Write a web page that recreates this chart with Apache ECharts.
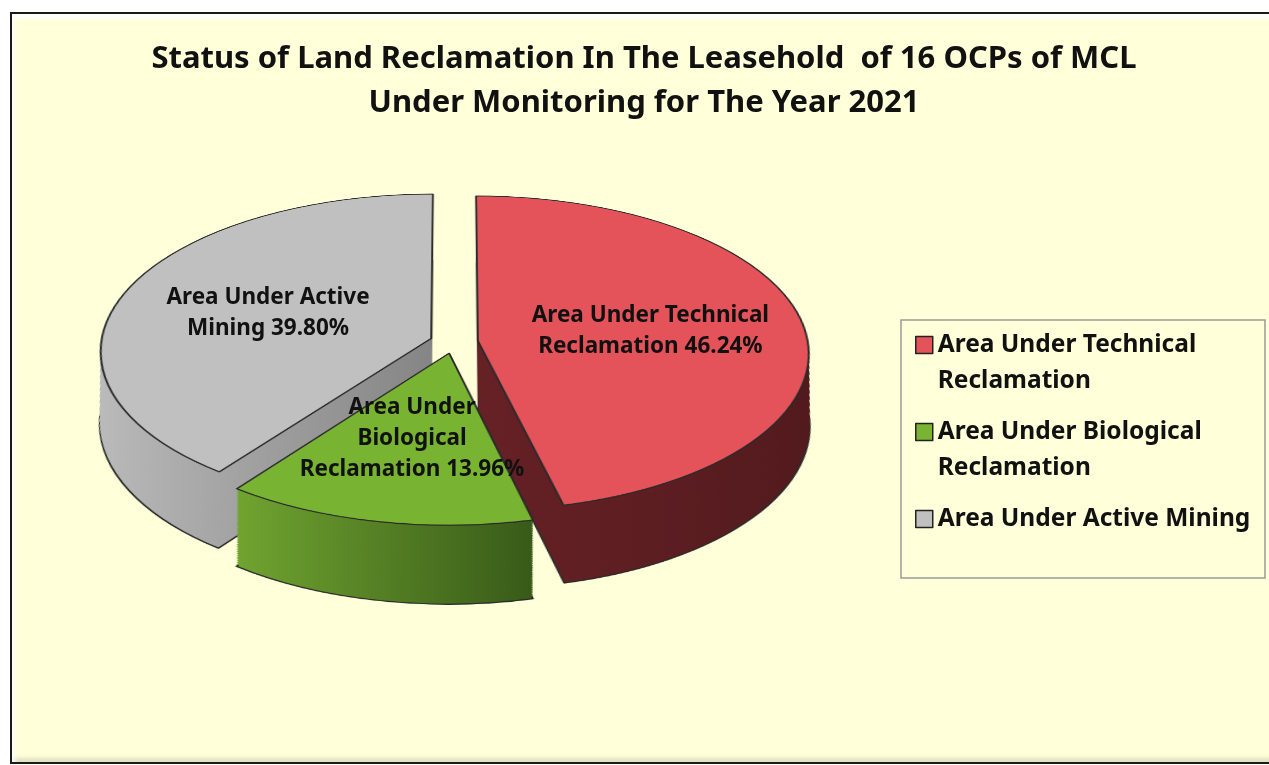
<!DOCTYPE html>
<html>
<head>
<meta charset="utf-8">
<title>Status of Land Reclamation 2021</title>
<script src="https://cdn.jsdelivr.net/npm/echarts@6/dist/echarts.min.js"></script>
<style>
    html, body { margin: 0; padding: 0; background: #fff; overflow: hidden; }
    #frame {
        position: absolute; left: 10px; top: 12px; width: 1280px; height: 748px; z-index: 0;
        background: #FFFFDA; border: 2px solid #1a1a1a; border-right: none;
        box-shadow: inset 3px 5px 4px rgba(255, 255, 255, 0.9), inset 0 -4px 4px rgba(0, 0, 0, 0.12);
    }
    #pieChart { position: absolute; left: 0; top: 0; width: 1269px; height: 900px; z-index: 1; }
    #mainChart { position: absolute; left: 0; top: 0; width: 1269px; height: 765px; z-index: 2; }
</style>
</head>
<body>
<div id="frame"></div>
<div id="pieChart"></div>
<div id="mainChart"></div>
<script type="text/javascript">
    // data
    var categories = ['Area Under Technical Reclamation', 'Area Under Biological Reclamation', 'Area Under Active Mining'];
    var shares = [46.24, 13.96, 39.80];
    var legendText = ['Area Under Technical\nReclamation', 'Area Under Biological\nReclamation', 'Area Under Active Mining'];
    var sliceLabels = ['Area Under Technical\nReclamation', 'Area Under\nBiological\nReclamation', 'Area Under Active\nMining'];

    // styles
    var topColors = ['#E4525A', '#78B432', '#C0C0C0'];
    var wallColors = [['#662125', '#521a1d'], ['#70A430', '#385A18'], ['#BBBBBB', '#858585']];
    var font = 'Noto Sans';

    // pie is drawn flat, then tilted with a css perspective transform
    var cx = 454, cy = 342;       // screen position of the pie centre
    var radius = 330;
    var explode = 24;
    var tiltDeg = 61.7, persp = 3650;
    var depthU = 146;             // thickness in the flat pie plane
    var layers = 44;
    var cyU = 380;                // centre inside the flat pie canvas
    var stepU = depthU / layers;
    var cosT = Math.cos(tiltDeg * Math.PI / 180), sinT = Math.sin(tiltDeg * Math.PI / 180);

    var pieEl = document.getElementById('pieChart');
    pieEl.style.top = (cy - cyU) + 'px';
    pieEl.style.transformOrigin = cx + 'px ' + cyU + 'px';
    pieEl.style.transform = 'perspective(' + persp + 'px) rotateX(' + tiltDeg + 'deg)';

    // same projection as the css transform, for the labels
    function project(dx, dy) {
        var k = persp / (persp - dy * sinT);
        return [cx + dx * k, cy + dy * cosT * k];
    }

    function gradient(stops) {
        return {
            type: 'linear', x: 0, y: 0, x2: 1, y2: 0,
            colorStops: [{offset: 0, color: stops[0]}, {offset: 1, color: stops[1]}]
        };
    }

    // one flat copy of the pie; lower copies shrink a little so the walls stay upright after the tilt
    function pieLayer(offsetU, colorFn, border, borderWidth) {
        var f = (persp - offsetU * sinT) / persp;
        return {
            type: 'pie',
            center: [cx, cyU + offsetU],
            radius: radius * f,
            startAngle: 90,
            clockwise: true,
            selectedMode: 'multiple',
            selectedOffset: explode,
            silent: true,
            animation: false,
            label: {show: false},
            labelLine: {show: false},
            data: categories.map(function (name, i) {
                return {
                    name: name,
                    value: shares[i],
                    selected: true,
                    itemStyle: {color: colorFn(i), borderColor: border, borderWidth: borderWidth}
                };
            })
        };
    }

    var pieSeries = [];
    for (var k = layers; k >= 1; k--) {
        pieSeries.push(pieLayer(k * stepU, function (i) {
            return gradient(wallColors[i]);
        }, k === layers ? '#2a2a2a' : 'rgba(0,0,0,0)', k === layers ? 2 : 0));
    }
    pieSeries.push(pieLayer(0, function (i) {
        return topColors[i];
    }, '#2a2a2a', 2));

    var pieChart = echarts.init(pieEl);
    pieChart.setOption({animation: false, series: pieSeries});

    // slice labels placed from the pie's own layout
    var labelGraphics = [];
    var topModel = pieChart.getModel().getSeriesByIndex(layers);
    var topData = topModel.getData();
    categories.forEach(function (name, i) {
        var lay = topData.getItemLayout(i);
        var mid = (lay.startAngle + lay.endAngle) / 2;
        var rl = lay.r * 0.53 + explode;
        var pos = project(rl * Math.cos(mid), rl * Math.sin(mid));
        labelGraphics.push({
            type: 'text',
            silent: true,
            z: 10,
            style: {
                text: sliceLabels[i] + ' ' + topModel.getDataParams(i).percent.toFixed(2) + '%',
                x: pos[0],
                y: pos[1],
                align: 'center',
                verticalAlign: 'middle',
                fill: '#111',
                fontFamily: font,
                fontWeight: 'bold',
                fontSize: 22.5,
                lineHeight: 31
            }
        });
    });

    // title, legend and labels on top
    var mainChart = echarts.init(document.getElementById('mainChart'));
    mainChart.setOption({
        animation: false,
        title: {
            text: 'Status of Land Reclamation In The Leasehold  of 16 OCPs of MCL\nUnder Monitoring for The Year 2021',
            left: 644,
            top: 37,
            textAlign: 'center',
            padding: 0,
            textStyle: {fontFamily: font, fontWeight: 'bold', fontSize: 31, lineHeight: 44, color: '#111'}
        },
        legend: {
            orient: 'vertical',
            left: 915,
            top: 291,
            padding: 0,
            itemGap: -21,
            itemWidth: 17,
            itemHeight: 17,
            selectedMode: false,
            // blank lines keep the marker level with the first text line
            formatter: function (name) {
                var t = legendText[categories.indexOf(name)];
                return '\n' + t + (t.indexOf('\n') < 0 ? '\n' : '');
            },
            textStyle: {fontFamily: font, fontWeight: 'bold', fontSize: 24.5, lineHeight: 36, color: '#111'},
            data: categories.map(function (name, i) {
                return {
                    name: name,
                    icon: 'rect',
                    itemStyle: {color: topColors[i], borderColor: '#222', borderWidth: 1.5}
                };
            })
        },
        graphic: [{
            type: 'rect',
            silent: true,
            shape: {x: 901, y: 320, width: 364, height: 258},
            style: {fill: 'none', stroke: '#9a9a9a', lineWidth: 1.5}
        }].concat(labelGraphics),
        series: [{
            type: 'pie',
            center: [cx, cy],
            radius: radius,
            silent: true,
            itemStyle: {color: 'rgba(0,0,0,0)'},
            label: {show: false},
            labelLine: {show: false},
            data: categories.map(function (name, i) {
                return {name: name, value: shares[i]};
            })
        }]
    });
</script>
</body>
</html>
